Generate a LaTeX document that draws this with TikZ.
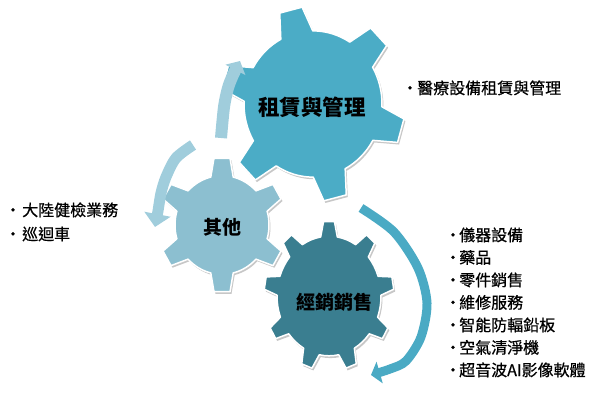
\documentclass[tikz,border=0pt]{standalone}
\usepackage{fontspec}
\newfontfamily\cjk{Noto Sans CJK TC}
\newfontfamily\cjkm[FakeBold=0.6]{Noto Sans CJK TC}
\usetikzlibrary{arrows.meta}
\definecolor{gearA}{HTML}{4BACC6}
\definecolor{gearB}{HTML}{8CBFD0}
\definecolor{gearC}{HTML}{3A7E90}
\definecolor{arrowL}{HTML}{A0CDDC}
\definecolor{arrowC}{HTML}{4AAAC4}
\newcommand\drawgear[7]{%
  \begin{scope}[shift={#2},yscale=#3]
    \pgfmathsetmacro\gp{360/#4}%
    \pgfmathsetmacro\gt{0.12*\gp}%
    \pgfmathsetmacro\gb{0.23*\gp}%
    \path[#1] ({#5-\gb}:#7) \foreach \k in {1,...,#4}{
      -- ({#5+(\k-1)*\gp-\gt}:#6) -- ({#5+(\k-1)*\gp+\gt}:#6) -- ({#5+(\k-1)*\gp+\gb}:#7)
      arc[start angle={#5+(\k-1)*\gp+\gb}, end angle={#5+\k*\gp-\gb}, radius=#7]
    } -- cycle;
  \end{scope}}
\tikzset{
  gearshadow/.style={fill=black, opacity=0.22, xshift=1.5, yshift=-2},
  gearbody/.style={fill=#1, draw=white, line width=1.5pt, line join=round},
  lightarrow/.style={draw=arrowL, line width=#1},
  item/.style={anchor=base west, inner sep=0pt, font=\cjkm\fontsize{16}{16}\selectfont},
  bul/.style={anchor=base, inner sep=0pt, font=\cjkm\fontsize{16}{16}\selectfont},
  glabel/.style={inner sep=0pt, font=\cjk\bfseries\fontsize{19}{19}\selectfont}
}
\begin{document}
\begin{tikzpicture}[x=1pt,y=1pt]
\useasboundingbox (0,0) rectangle (600,400);
% gears
\drawgear{gearshadow}{(329,104)}{1.15}{9}{90}{65}{52}
\drawgear{gearbody=gearC}{(329,104)}{1.15}{9}{90}{65}{52}
\drawgear{gearshadow}{(313,296)}{1.06}{6}{104}{92}{69}
\drawgear{gearbody=gearA}{(313,296)}{1.06}{6}{104}{92}{69}
\drawgear{gearshadow}{(222,175)}{1.05}{6}{90}{64}{47}
\drawgear{gearbody=gearB}{(222,175)}{1.05}{6}{90}{64}{47}
% arrows
\draw[lightarrow=12pt, -{Triangle[width=22pt,length=10pt]}]
  plot[smooth] coordinates {(221,262) (224,293) (228,312) (233,325) (240,339)};
\draw[lightarrow=11pt, -{Triangle[width=26pt,length=13pt]}]
  plot[smooth] coordinates {(193,255) (176,242) (166,223) (161,207) (158,189) (155,173)};
\draw[draw=arrowC, line width=9pt, -{Triangle[width=22pt,length=9pt]}]
  plot[smooth] coordinates {(361,192) (394,168) (418,132) (427,97) (421,63) (406,39) (390,31) (371,25)};
% gear labels
\node[glabel, font=\cjk\bfseries\fontsize{21.5}{21.5}\selectfont] (lblA) at (312,293) {租賃與管理};
\node[glabel] (lblB) at (222,173) {其他};
\node[glabel] (lblC) at (334,98) {經銷銷售};
% lists
\node[bul] (tb1) at (410,306) {•};
\node[item] (t1) at (417,306) {醫療設備租賃與管理};
\node[bul] (lb1) at (13,184) {•};
\node[item] (l1) at (22,184) {大陸健檢業務};
\node[bul] (lb2) at (13,160) {•};
\node[item] (l2) at (22,160) {巡迴車};
\foreach \t [count=\i] in {儀器設備,藥品,零件銷售,維修服務,智能防輻鉛板,空氣清淨機,超音波AI影像軟體}{
  \node[bul] (rb\i) at (453,{159-(\i-1)*22.5}) {•};
  \node[item] (r\i) at (459,{159-(\i-1)*22.5}) {\t};
}
\end{tikzpicture}
\end{document}
